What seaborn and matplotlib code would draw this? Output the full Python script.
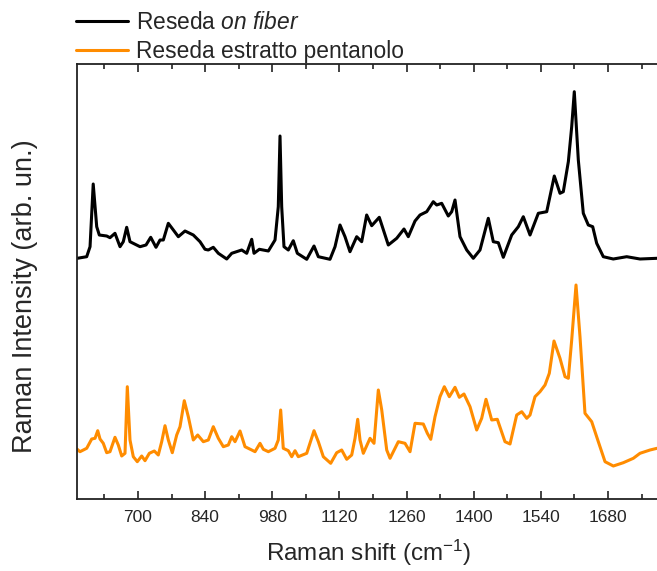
import numpy as np
import pandas as pd
import matplotlib
matplotlib.use("Agg")
import matplotlib.pyplot as plt
from matplotlib.ticker import MultipleLocator
from matplotlib.lines import Line2D
import seaborn as sns

# ---- data ----
black_x = [573.4, 593, 600, 606.6, 613.9, 619.3, 634.7, 641.6, 652, 662.5, 669.3, 676.4, 683.3,
           704.2, 716.7, 726.5, 737.5, 745.9, 752.8, 763.2, 773.7, 784.1, 798, 815.3, 829.3, 839.7,
           846.6, 857, 867.5, 885, 895.4, 916.2, 926.7, 937.1, 941.9, 953, 971.8, 985.7, 992.5,
           996.1, 999.6, 1004.4, 1013.4, 1023.8, 1032.2, 1051.8, 1067, 1076, 1100.3, 1110.8, 1121.2,
           1131.6, 1142, 1156, 1166.4, 1176.8, 1187.3, 1203.1, 1221.9, 1239.4, 1254.6, 1263.6,
           1277.6, 1288, 1302, 1315.7, 1322.8, 1333.2, 1347, 1354.1, 1361, 1371.4, 1385.4, 1399.1,
           1413.1, 1430.4, 1440.8, 1451.3, 1461.7, 1479.2, 1493, 1503.4, 1517.4, 1534.7, 1552.2,
           1568, 1579.9, 1586.8, 1597.3, 1604.3, 1609.7, 1618.1, 1628.5, 1638.9, 1648.1, 1656.4,
           1670.2, 1691, 1719, 1746.7, 1782.2]
black_y = [240.7, 242.3, 252.3, 315, 272.3, 264, 263, 261.3, 265.7, 252.3, 257.3, 271.7, 257.3,
           252.3, 254, 261.7, 251.7, 259, 259, 275.7, 269, 262.3, 268, 264, 257.3, 249.7,
           249, 251.7, 245.7, 240, 245.7, 249, 245.7, 259.7, 245.7, 249.7, 248, 259, 292.3,
           363, 292.3, 252.3, 249, 258.3, 245.7, 239.7, 253, 242.3, 239.7, 252.3, 274,
           262.3, 247.3, 262.3, 257.3, 284, 273.3, 281.7, 254, 260.7, 270, 262.3,
           278, 284, 287.3, 297.3, 294, 295.7, 283, 287.3, 299, 262.3, 249, 240.7,
           249, 280.7, 257.3, 256.3, 241.7, 264, 272.3, 282.3, 264, 285.7, 287.3,
           323, 305.7, 307.3, 337.3, 372.3, 407.3, 339, 285.7, 274, 272.3, 255.7,
           242.3, 240, 242.3, 240, 240.7]

orange_x = [573.4, 579, 593, 603.5, 610.4, 616, 620.8, 627.6, 634.7, 641.6, 652, 658.9, 666,
            672.9, 677.7, 683.3, 690.2, 698.5, 707.7, 714.6, 723.6, 734, 742.3, 749.4, 756.3,
            763.2, 771.5, 780.7, 787.6, 796.5, 804.9, 815.3, 824.5, 836.2, 846.6, 857, 867.5,
            877.9, 888.3, 895.4, 902.3, 912.7, 923.1, 937.1, 944, 954.4, 961.3, 971.8, 985.7,
            992.5, 997.5, 1002.9, 1013.4, 1020.5, 1027.4, 1034.2, 1051.8, 1067, 1076, 1086.4,
            1101.8, 1114.3, 1124.7, 1135.2, 1145.6, 1152.5, 1158.1, 1162.9, 1169.8, 1183.8,
            1192.1, 1201.1, 1208.2, 1218.6, 1225.5, 1242.8, 1256.7, 1267.2, 1277.6, 1294.9,
            1303.3, 1310.4, 1319.3, 1329.7, 1338.7, 1349.1, 1361, 1370, 1379.7, 1392.3, 1406.2,
            1416.6, 1425.6, 1437.5, 1449.2, 1465.2, 1475.7, 1489.6, 1500.1, 1510.5, 1517.4,
            1527.8, 1538.2, 1548.7, 1557.6, 1567.4, 1579.9, 1590.4, 1597.3, 1604.3, 1613.3,
            1621.6, 1632, 1646, 1659.8, 1673.8, 1691.1, 1711.9, 1732.8, 1746.7, 1767.6, 1782.2]
orange_y = [49.7, 47.3, 50.7, 60, 60.7, 68.3, 60, 55.7, 46.3, 47.3, 61.7, 54, 43,
            45.7, 112.3, 59, 42.3, 37.3, 43, 38.3, 45.7, 48, 44, 57.3, 73.3,
            59, 46.3, 64, 72.3, 98.3, 82.3, 59, 64, 57.3, 59, 72.3, 60.7,
            52.3, 54, 62.3, 57.3, 68, 52.3, 49, 47.3, 55.7, 49.7, 47.3, 50.7,
            59, 89, 50.7, 48.3, 42.3, 48.3, 42.3, 45.7, 68.3, 57.3, 42.3,
            35.7, 46.3, 49, 39.7, 44, 60.7, 79.7, 59, 45.7, 60.7,
            55.7, 109, 89, 49, 40.7, 57.3, 55.7, 47.3, 75.7, 75,
            65.7, 59.7, 82.3, 102.3, 112.3, 102.3, 111.7, 101.7, 105, 92.3, 69,
            80.7, 99.7, 79, 79.7, 57.3, 55, 84, 87.3, 80.7, 84,
            102.3, 107.3, 114, 125.7, 158, 140.7, 122.3, 120.7, 159, 214,
            162.3, 85.7, 77.3, 57.3, 37.3, 33, 36.3, 40.7, 45.7, 49, 50.7]

labels = ["Reseda $\\mathit{on\\ fiber}$", "Reseda estratto pentanolo"]
colors = ["#000000", "#ff8c00"]
x_ticks = [700, 840, 980, 1120, 1260, 1400, 1540, 1680]

df = pd.concat([
    pd.DataFrame({"shift": black_x, "intensity": black_y, "sample": labels[0]}),
    pd.DataFrame({"shift": orange_x, "intensity": orange_y, "sample": labels[1]}),
])

sns.set_style("ticks")
plt.rcParams["font.family"] = ["Liberation Sans", "DejaVu Sans"]
plt.rcParams["mathtext.fontset"] = "custom"
plt.rcParams["mathtext.rm"] = "Liberation Sans"
plt.rcParams["mathtext.it"] = "Liberation Sans:italic"

W, H = 657, 571
fig = plt.figure(figsize=(W / 100, H / 100), dpi=100)
ax = fig.add_axes([77 / W, 72 / H, (661 - 77) / W, 435 / H])

sns.lineplot(data=df, x="shift", y="intensity", hue="sample", palette=colors,
             hue_order=labels, sort=False, estimator=None, lw=2.2, ax=ax, legend=False)

ax.set_xlim(572.8, 1790.5)
ax.set_ylim(0, 435)
ax.set_xticks(x_ticks)
ax.xaxis.set_minor_locator(MultipleLocator(70))
ax.set_yticks([])
ax.tick_params(axis="x", which="both", direction="in", top=True, bottom=True,
               labelsize=12.5, color="#222222", width=1.2)
ax.tick_params(axis="x", which="major", length=6, pad=8)
ax.tick_params(axis="x", which="minor", length=3.5)
for s in ax.spines.values():
    s.set_linewidth(1.3)
    s.set_color("#222222")

ax.set_xlabel("Raman shift (cm$^{-1}$)", fontsize=17.5)
ax.xaxis.set_label_coords(0.5, -0.09)
ax.set_ylabel("Raman Intensity (arb. un.)", fontsize=19.5)
ax.yaxis.set_label_coords(-0.066, 0.466)

handles = [Line2D([], [], color=c, lw=2.2) for c in colors]
fig.legend(handles, labels, loc="upper left", bbox_to_anchor=(76 / W, 1 - 11 / H),
           frameon=False, fontsize=16.4, handlelength=2.3, handletextpad=0.35,
           labelspacing=0.26, borderpad=0, borderaxespad=0)

fig.savefig("out.png", dpi=100)
